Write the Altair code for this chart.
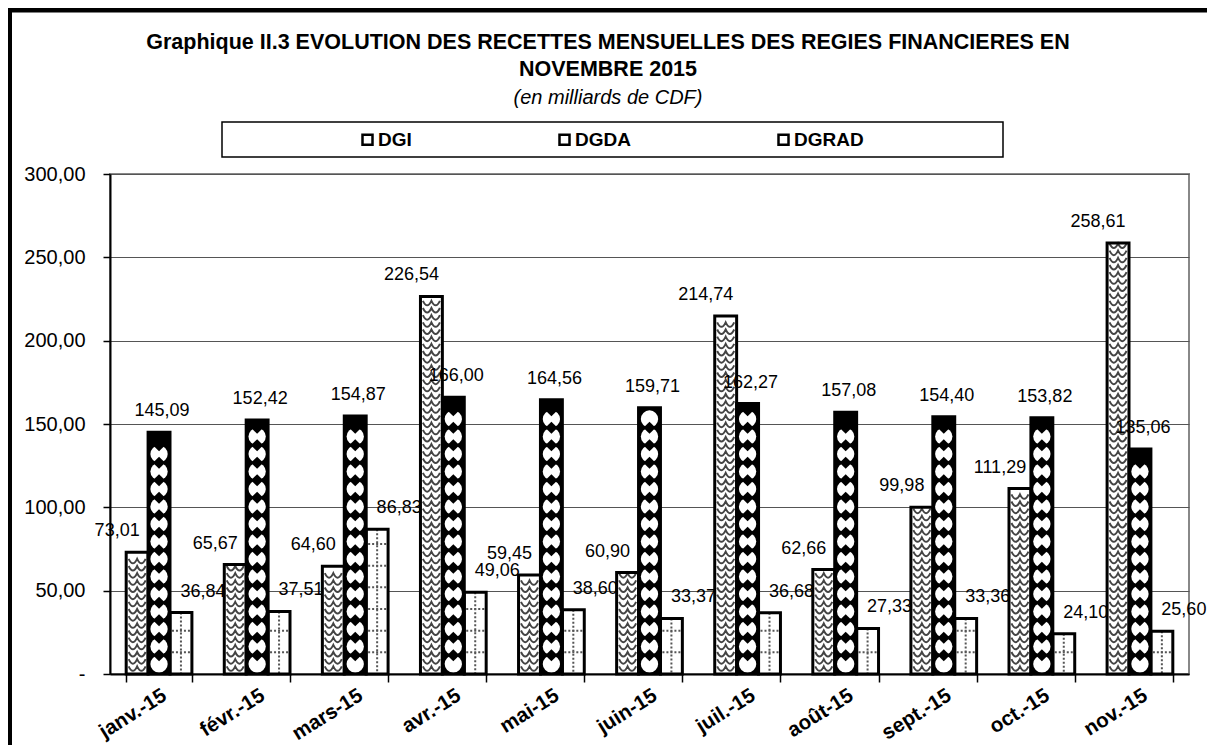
import altair as alt
import pandas as pd

months = ["janv.-15", "févr.-15", "mars-15", "avr.-15", "mai-15", "juin-15",
          "juil.-15", "août-15", "sept.-15", "oct.-15", "nov.-15"]
series = ["DGI", "DGDA", "DGRAD"]
dgi = [73.01, 65.67, 64.60, 226.54, 59.45, 60.90, 214.74, 62.66, 99.98, 111.29, 258.61]
dgda = [145.09, 152.42, 154.87, 166.00, 164.56, 159.71, 162.27, 157.08, 154.40, 153.82, 135.06]
dgrad = [36.84, 37.51, 86.83, 49.06, 38.60, 33.37, 36.68, 27.33, 33.36, 24.10, 25.60]
y_ticks = [0, 50, 100, 150, 200, 250, 300]
title_lines = ["Graphique II.3 EVOLUTION DES RECETTES MENSUELLES DES REGIES FINANCIERES  EN",
               "NOVEMBRE  2015"]
subtitle = "(en milliards de CDF)"

rows = []
for s, vals in zip(series, [dgi, dgda, dgrad]):
    for m, v in zip(months, vals):
        rows.append({"month": m, "series": s, "value": v})
df = pd.DataFrame(rows)

FONT = "Liberation Sans, Arial, sans-serif"

x_axis = alt.Axis(title=None, labelAngle=-32, labelFont=FONT, labelFontSize=20.5,
                  labelFontWeight="bold", labelColor="black", tickBand="extent",
                  tickSize=8, tickColor="black", tickWidth=1.5, domainColor="black",
                  domainWidth=2, labelPadding=3, grid=False)
x = alt.X("month:N", sort=months,
          scale=alt.Scale(domain=months, paddingInner=0.33, paddingOuter=0.165),
          axis=x_axis)
xo = alt.XOffset("series:N", sort=series,
                 scale=alt.Scale(domain=series, paddingInner=0, paddingOuter=0))
y_axis = alt.Axis(title=None, values=y_ticks, labelFont=FONT, labelFontSize=20,
                  labelColor="black", tickSize=7, tickColor="black", tickWidth=1.5,
                  domainColor="black", domainWidth=2, labelPadding=18,
                  grid=True, gridColor="#555", gridWidth=1,
                  labelExpr="datum.value == 0 ? '-' : replace(format(datum.value, '.2f'), '.', ',')")
yscale = alt.Scale(domain=[0, 300], nice=False, zero=True)


def Y(field):
    return alt.Y(field, scale=yscale, axis=y_axis, stack=None)


base = alt.Chart(df)

legend = alt.Legend(title=None, orient="none", legendX=248, legendY=-44,
                    direction="horizontal", symbolType="square",
                    symbolSize=100, symbolStrokeWidth=2.5, symbolStrokeColor="black",
                    labelFont=FONT, labelFontSize=19, labelFontWeight="bold",
                    labelColor="black", labelOffset=1, columnPadding=142,
                    padding=0, zindex=1)

bars = base.mark_bar(strokeWidth=0, stroke="black").encode(
    x=x, xOffset=xo, y=Y("value:Q"),
    fill=alt.Fill("series:N", scale=alt.Scale(domain=series, range=["white", "white", "white"]),
                  legend=legend),
)

dgda_black = (base.transform_filter(alt.datum.series == "DGDA")
              .mark_bar(fill="black", strokeWidth=0)
              .encode(x=x, xOffset=xo, y=Y("value:Q")))

CHEVRON = "M-1,-0.35 Q-0.5,0.7 0,-0.35 Q0.5,0.7 1,-0.35"
HLINE = "M-1,0 L1,0"

dgi_pts = (base.transform_filter(alt.datum.series == "DGI")
           .transform_calculate(seq="sequence(2.8, datum.value - 2, 4.3)")
           .transform_flatten(["seq"])
           .mark_point(shape=CHEVRON, filled=False, stroke="#444", strokeWidth=2,
                       size=289, opacity=1)
           .encode(x=x, xOffset=xo, y=Y("seq:Q")))

dgda_pts = (base.transform_filter(alt.datum.series == "DGDA")
            .transform_calculate(seq="sequence(6, datum.value - 4.5, 10.5)")
            .transform_flatten(["seq"])
            .mark_point(shape="circle", filled=True, fill="white", strokeWidth=0,
                        size=300, opacity=1)
            .encode(x=x, xOffset=xo, y=Y("seq:Q")))

dgda_dia = (base.transform_filter(alt.datum.series == "DGDA")
            .transform_calculate(seq="sequence(11.25, datum.value - 3, 10.5)")
            .transform_flatten(["seq"])
            .mark_point(shape="diamond", filled=True, fill="black", strokeWidth=0,
                        size=150, opacity=1)
            .encode(x=x, xOffset=xo, y=Y("seq:Q")))

dgrad_pts = (base.transform_filter(alt.datum.series == "DGRAD")
             .transform_calculate(seq="sequence(13, datum.value - 2, 13)")
             .transform_flatten(["seq"])
             .mark_point(shape=HLINE, filled=False, stroke="#555", strokeWidth=2,
                         strokeDash=[2, 2], size=324, opacity=1)
             .encode(x=x, xOffset=xo, y=Y("seq:Q")))

dgrad_rule = (base.transform_filter(alt.datum.series == "DGRAD")
              .transform_calculate(zero="0")
              .mark_rule(stroke="#555", strokeWidth=2, strokeDash=[2, 2])
              .encode(x=x, xOffset=xo, y=Y("value:Q"), y2="zero:Q"))

outline = base.mark_bar(fillOpacity=0, stroke="black", strokeWidth=3).encode(
    x=x, xOffset=xo, y=Y("value:Q"))


def labels(s, dx):
    return (base.transform_filter(alt.datum.series == s)
            .transform_calculate(lab="replace(format(datum.value, '.2f'), '.', ',')")
            .mark_text(dx=dx, dy=-21, fontSize=18, font=FONT, color="black", baseline="middle")
            .encode(x=x, xOffset=xo, y=Y("value:Q"), text="lab:N"))


one = alt.Data(values=[{"k": 0}])
frame = alt.Chart(one).mark_rect(fill="transparent", stroke="black", strokeWidth=5).encode(
    x=alt.value(-100.5), x2=alt.value(1130), y=alt.value(-164), y2=alt.value(620))
legend_box = alt.Chart(one).mark_rect(fill="transparent", stroke="black", strokeWidth=1.5).encode(
    x=alt.value(112), x2=alt.value(893), y=alt.value(-52), y2=alt.value(-17))
t1 = alt.Chart(one).mark_text(text=title_lines[0], font=FONT, fontSize=21.5, fontWeight="bold",
                              color="black", baseline="middle", align="center").encode(
    x=alt.value(498), y=alt.value(-131))
t2 = alt.Chart(one).mark_text(text=title_lines[1], font=FONT, fontSize=21.5, fontWeight="bold",
                              color="black", baseline="middle", align="center").encode(
    x=alt.value(498), y=alt.value(-104))
t3 = alt.Chart(one).mark_text(text=subtitle, font=FONT, fontSize=20, fontStyle="italic",
                              color="black", baseline="middle", align="center").encode(
    x=alt.value(498), y=alt.value(-76))

chart = alt.layer(
    legend_box, bars, dgda_black, dgi_pts, dgda_pts, dgda_dia, dgrad_pts, dgrad_rule, outline,
    labels("DGI", -20), labels("DGDA", 3), labels("DGRAD", 22), frame, t1, t2, t3,
).properties(
    width=1079, height=500,
    autosize=alt.AutoSizeParams(type="none"),
    padding={"left": 102, "top": 166, "right": 18, "bottom": 71},
    background="white",
).configure_view(stroke="#888", strokeWidth=2)

chart.save("out.html", embed_options={"renderer": "svg", "actions": False})
